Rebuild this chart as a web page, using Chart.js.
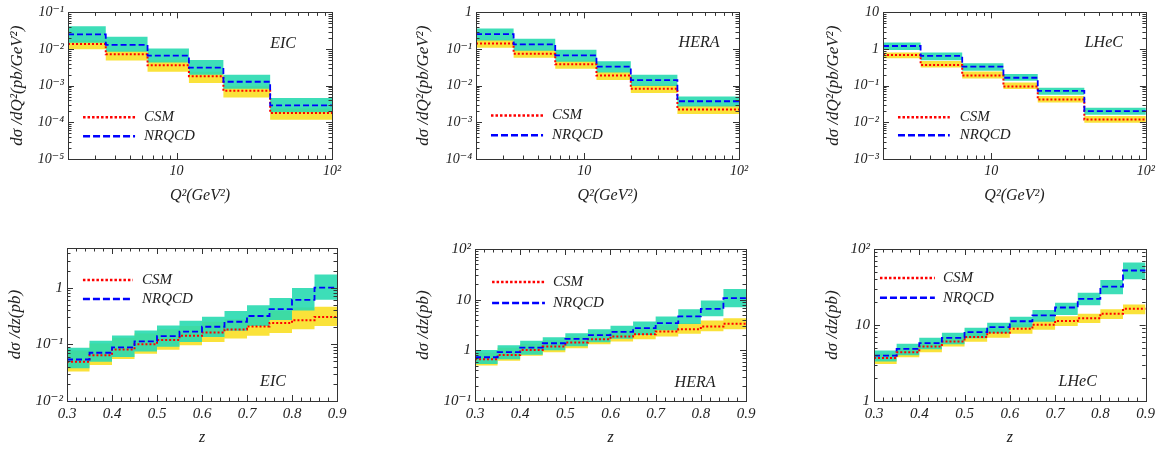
<!DOCTYPE html>
<html>
<head>
<meta charset="utf-8">
<script src="https://cdn.jsdelivr.net/npm/chart.js@4.4.1/dist/chart.umd.min.js"></script>
<style>
  html, body { margin: 0; padding: 0; background: #fff; }
  #wrap { position: relative; width: 1159px; height: 449px; overflow: hidden; }
  canvas { position: absolute; }
</style>
</head>
<body>
<div id="wrap">
  <canvas id="c1" width="380" height="220" style="left:0;top:0"></canvas>
  <canvas id="c2" width="390" height="220" style="left:380px;top:0"></canvas>
  <canvas id="c3" width="389" height="220" style="left:770px;top:0"></canvas>
  <canvas id="c4" width="380" height="229" style="left:0;top:220px"></canvas>
  <canvas id="c5" width="390" height="229" style="left:380px;top:220px"></canvas>
  <canvas id="c6" width="389" height="229" style="left:770px;top:220px"></canvas>
</div>
<script>
// bin edges
const q2Edges = [2, 3.5, 6.5, 12, 20, 40, 100];
const zEdges = [0.3, 0.35, 0.4, 0.45, 0.5, 0.55, 0.6, 0.65, 0.7, 0.75, 0.8, 0.85, 0.9];

// x ticks
const q2Ticks = [10, 100];
const q2TickLabels = ['10', '10²'];
const zTicks = [0.3, 0.4, 0.5, 0.6, 0.7, 0.8, 0.9];
const zTickLabels = ['0.3', '0.4', '0.5', '0.6', '0.7', '0.8', '0.9'];

// y ticks
const eicQ2YTicks = [1e-5, 1e-4, 1e-3, 1e-2, 1e-1];
const eicQ2YLabels = ['10⁻⁵', '10⁻⁴', '10⁻³', '10⁻²', '10⁻¹'];
const heraQ2YTicks = [1e-4, 1e-3, 1e-2, 1e-1, 1];
const heraQ2YLabels = ['10⁻⁴', '10⁻³', '10⁻²', '10⁻¹', '1'];
const lhecQ2YTicks = [1e-3, 1e-2, 1e-1, 1, 10];
const lhecQ2YLabels = ['10⁻³', '10⁻²', '10⁻¹', '1', '10'];
const eicZYTicks = [0.01, 0.1, 1];
const eicZYLabels = ['10⁻²', '10⁻¹', '1'];
const heraZYTicks = [0.1, 1, 10, 100];
const heraZYLabels = ['10⁻¹', '1', '10', '10²'];
const lhecZYTicks = [1, 10, 100];
const lhecZYLabels = ['1', '10', '10²'];

// EIC, dsigma/dQ2
const eicQ2Nrqcd   = [0.025, 0.013, 0.0066, 0.0031, 0.00128, 0.00029];
const eicQ2NrqcdHi = [0.042, 0.0216, 0.0104, 0.0050, 0.0020, 0.00046];
const eicQ2NrqcdLo = [0.0148, 0.0085, 0.0043, 0.0020, 0.00082, 0.00019];
const eicQ2Csm     = [0.0137, 0.0072, 0.0036, 0.0018, 0.00073, 0.000179];
const eicQ2CsmHi   = [0.017, 0.0092, 0.0049, 0.0024, 0.00096, 0.00024];
const eicQ2CsmLo   = [0.0098, 0.0049, 0.0024, 0.00118, 0.00048, 0.000118];

// HERA, dsigma/dQ2
const heraQ2Nrqcd   = [0.254, 0.134, 0.0675, 0.0333, 0.0142, 0.00377];
const heraQ2NrqcdHi = [0.362, 0.19, 0.096, 0.0464, 0.0198, 0.00505];
const heraQ2NrqcdLo = [0.17, 0.09, 0.045, 0.023, 0.0098, 0.0027];
const heraQ2Csm     = [0.142, 0.0748, 0.0385, 0.019, 0.0083, 0.00225];
const heraQ2CsmHi   = [0.18, 0.095, 0.049, 0.024, 0.0106, 0.0029];
const heraQ2CsmLo   = [0.109, 0.058, 0.0288, 0.0142, 0.0063, 0.00168];

// LHeC, dsigma/dQ2
const lhecQ2Nrqcd   = [1.21, 0.65, 0.33, 0.165, 0.0718, 0.0202];
const lhecQ2NrqcdHi = [1.51, 0.80, 0.41, 0.21, 0.088, 0.0249];
const lhecQ2NrqcdLo = [0.94, 0.494, 0.254, 0.136, 0.057, 0.016];
const lhecQ2Csm     = [0.69, 0.37, 0.19, 0.095, 0.0419, 0.012];
const lhecQ2CsmHi   = [0.80, 0.474, 0.244, 0.123, 0.052, 0.0148];
const lhecQ2CsmLo   = [0.56, 0.313, 0.158, 0.081, 0.0347, 0.0098];

// EIC, dsigma/dz
const eicZNrqcd   = [0.054, 0.071, 0.088, 0.113, 0.139, 0.168, 0.204, 0.25, 0.316, 0.416, 0.61, 1.0];
const eicZNrqcdHi = [0.087, 0.115, 0.143, 0.175, 0.215, 0.261, 0.307, 0.388, 0.49, 0.655, 0.987, 1.71];
const eicZNrqcdLo = [0.038, 0.049, 0.060, 0.075, 0.091, 0.11, 0.135, 0.173, 0.21, 0.268, 0.394, 0.61];
const eicZCsm     = [0.049, 0.064, 0.081, 0.1, 0.119, 0.141, 0.162, 0.183, 0.207, 0.237, 0.265, 0.303];
const eicZCsmHi   = [0.078, 0.103, 0.13, 0.155, 0.185, 0.21, 0.25, 0.276, 0.33, 0.39, 0.445, 0.46];
const eicZCsmLo   = [0.033, 0.043, 0.055, 0.068, 0.080, 0.096, 0.110, 0.126, 0.141, 0.159, 0.185, 0.21];

// HERA, dsigma/dz
const heraZNrqcd   = [0.73, 0.918, 1.13, 1.38, 1.69, 1.99, 2.32, 2.74, 3.44, 4.66, 6.6, 10.7];
const heraZNrqcdHi = [1.02, 1.26, 1.54, 1.82, 2.18, 2.62, 3.05, 3.72, 4.66, 6.5, 9.66, 16.2];
const heraZNrqcdLo = [0.54, 0.67, 0.82, 1.0, 1.2, 1.45, 1.7, 2.0, 2.5, 3.3, 4.7, 7.1];
const heraZCsm     = [0.668, 0.813, 1.02, 1.19, 1.43, 1.66, 1.87, 2.08, 2.35, 2.62, 2.96, 3.34];
const heraZCsmHi   = [0.9, 1.13, 1.35, 1.58, 1.85, 2.15, 2.45, 2.75, 3.1, 3.45, 3.9, 4.3];
const heraZCsmLo   = [0.50, 0.62, 0.78, 0.92, 1.10, 1.32, 1.49, 1.66, 1.87, 2.12, 2.39, 2.62];

// LHeC, dsigma/dz
const lhecZNrqcd   = [3.96, 4.85, 5.77, 6.79, 8.07, 9.4, 11.2, 13.4, 17.0, 22.1, 31.9, 52.1];
const lhecZNrqcdHi = [4.61, 5.65, 6.79, 7.91, 9.22, 10.7, 12.8, 15.7, 19.6, 26.6, 39.2, 66.6];
const lhecZNrqcdLo = [3.3, 4.0, 4.8, 5.6, 6.7, 7.8, 9.3, 11.0, 13.5, 18.2, 25.3, 40.0];
const lhecZCsm     = [3.68, 4.38, 5.21, 6.07, 6.93, 7.91, 8.94, 10.1, 11.3, 12.3, 14.1, 16.3];
const lhecZCsmHi   = [4.2, 5.0, 5.9, 6.9, 7.9, 9.0, 10.2, 11.6, 13.0, 14.1, 16.1, 18.6];
const lhecZCsmLo   = [3.07, 3.76, 4.38, 5.21, 6.01, 6.79, 7.67, 8.67, 9.7, 10.6, 12.0, 13.9];

const SERIF = '"Liberation Serif", "DejaVu Serif", serif';
const GREEN = 'rgba(40, 218, 176, 0.9)';
const YELLOW = 'rgb(250, 226, 58)';

// histogram steps: hold each bin value up to the next edge
function steps(edges, vals) {
    return edges.map((e, i) => ({x: e, y: vals[Math.min(i, vals.length - 1)]}));
}

function minorValues(scale, isLog) {
    const out = [];
    if (isLog) {
        const k0 = Math.floor(Math.log10(scale.min)), k1 = Math.ceil(Math.log10(scale.max));
        for (let k = k0; k <= k1; k++) {
            for (let m = 1; m <= 9; m++) {
                const v = m * Math.pow(10, k);
                if (v >= scale.min * 0.999 && v <= scale.max * 1.001) out.push({v: v, major: m === 1});
            }
        }
    } else {
        for (let v = scale.min; v <= scale.max + 1e-9; v += 0.02) {
            const r = Math.round(v * 100) / 100;
            out.push({v: r, major: Math.abs(r * 10 - Math.round(r * 10)) < 1e-6});
        }
    }
    return out;
}

// frame, inward ticks, legend and label
const decorPlugin = {
    id: 'decor',
    afterDraw(chart, args, opts) {
        const {ctx, chartArea: a, scales} = chart;
        ctx.save();
        ctx.strokeStyle = '#333';
        ctx.lineWidth = 1;
        ctx.beginPath();
        minorValues(scales.x, opts.xLog).forEach(t => {
            const px = Math.round(scales.x.getPixelForValue(t.v)) + 0.5;
            const len = t.major ? 6 : 3.5;
            ctx.moveTo(px, a.bottom); ctx.lineTo(px, a.bottom - len);
            ctx.moveTo(px, a.top); ctx.lineTo(px, a.top + len);
        });
        minorValues(scales.y, true).forEach(t => {
            const py = Math.round(scales.y.getPixelForValue(t.v)) + 0.5;
            const len = t.major ? 6 : 3.5;
            ctx.moveTo(a.left, py); ctx.lineTo(a.left + len, py);
            ctx.moveTo(a.right, py); ctx.lineTo(a.right - len, py);
        });
        ctx.stroke();
        ctx.strokeRect(Math.round(a.left) + 0.5, Math.round(a.top) + 0.5,
            Math.round(a.right - a.left), Math.round(a.bottom - a.top));

        const w = a.right - a.left, h = a.bottom - a.top;
        const lx0 = a.left + opts.legend[0] * w, lx1 = a.left + opts.legend[1] * w, tx = a.left + opts.legend[2] * w;
        const rows = [
            {text: 'CSM', color: '#ff0000', dash: [2.5, 2], y: a.top + opts.legend[3] * h},
            {text: 'NRQCD', color: '#0000ff', dash: [7, 3], y: a.top + opts.legend[4] * h}
        ];
        ctx.font = 'italic 15px ' + SERIF;
        ctx.textBaseline = 'middle';
        ctx.textAlign = 'left';
        rows.forEach(r => {
            ctx.beginPath();
            ctx.setLineDash(r.dash);
            ctx.strokeStyle = r.color;
            ctx.lineWidth = 2.5;
            ctx.moveTo(lx0, r.y); ctx.lineTo(lx1, r.y);
            ctx.stroke();
            ctx.setLineDash([]);
            ctx.fillStyle = '#222';
            ctx.fillText(r.text, tx, r.y);
        });
        ctx.textAlign = 'center';
        ctx.font = 'italic 16px ' + SERIF;
        ctx.fillText(opts.label, a.left + opts.labelPos[0] * w, a.top + opts.labelPos[1] * h);
        ctx.restore();
    }
};

function makePanel(id, p) {
    const isZ = p.kind === 'z';
    const edges = isZ ? zEdges : q2Edges;
    const xTicks = isZ ? zTicks : q2Ticks;
    const xLabels = isZ ? zTickLabels : q2TickLabels;
    const tickFont = {family: SERIF, style: 'italic', size: isZ ? 15 : 14};
    const xTitleFont = {family: SERIF, style: 'italic', size: 16};
    const yTitleFont = {family: SERIF, style: 'italic', size: 17};

    const band = (vals, fill, color, order) => ({
        data: steps(edges, vals), stepped: true, borderWidth: 0, pointRadius: 0,
        fill: fill, backgroundColor: color, order: order
    });

    new Chart(document.getElementById(id), {
        type: 'line',
        data: {
            datasets: [
                band(p.csmLo, false, YELLOW, 40),
                band(p.csmHi, '-1', YELLOW, 40),
                band(p.nrqcdLo, false, GREEN, 30),
                band(p.nrqcdHi, '-1', GREEN, 30),
                {
                    label: 'CSM', data: steps(edges, p.csm), stepped: true, pointRadius: 0,
                    borderColor: '#ff0000', borderWidth: 2, borderDash: [2, 2], fill: false, order: 20
                },
                {
                    label: 'NRQCD', data: steps(edges, p.nrqcd), stepped: true, pointRadius: 0,
                    borderColor: '#0000ff', borderWidth: 1.8, borderDash: [6, 3], fill: false, order: 10
                }
            ]
        },
        options: {
            responsive: false,
            devicePixelRatio: 1,
            animation: false,
            layout: {padding: {top: p.padTop, right: p.padRight, left: 0, bottom: 0}},
            scales: {
                x: {
                    type: isZ ? 'linear' : 'logarithmic',
                    min: edges[0], max: edges[edges.length - 1],
                    grid: {display: false, drawTicks: false},
                    border: {display: false},
                    afterBuildTicks: s => { s.ticks = xTicks.map(v => ({value: v})); },
                    afterFit: s => { s.height = p.xHeight; },
                    ticks: {
                        autoSkip: false, maxRotation: 0, padding: 4, color: '#222', font: tickFont,
                        callback: v => xLabels[xTicks.indexOf(v)]
                    },
                    title: {
                        display: true, text: isZ ? 'z' : 'Q²(GeV²)', color: '#222', font: xTitleFont,
                        padding: {top: 0, bottom: p.xTitlePad}
                    }
                },
                y: {
                    type: 'logarithmic',
                    min: p.yTicks[0], max: p.yMax,
                    grid: {display: false, drawTicks: false},
                    border: {display: false},
                    afterBuildTicks: s => { s.ticks = p.yTicks.map(v => ({value: v})); },
                    afterFit: s => { s.width = p.yWidth; },
                    ticks: {
                        autoSkip: false, padding: 4, color: '#222', font: tickFont,
                        callback: v => p.yLabels[p.yTicks.indexOf(v)]
                    },
                    title: {
                        display: true, text: isZ ? 'dσ /dz(pb)' : 'dσ /dQ²(pb/GeV²)', color: '#222', font: yTitleFont,
                        padding: {top: p.yTitlePad, bottom: 0}
                    }
                }
            },
            plugins: {
                legend: {display: false},
                tooltip: {enabled: false},
                decor: {xLog: !isZ, label: p.label, labelPos: p.labelPos, legend: p.legend}
            }
        },
        plugins: [decorPlugin]
    });
}

makePanel('c1', {
    kind: 'q2', label: 'EIC', yTicks: eicQ2YTicks, yLabels: eicQ2YLabels, yMax: 0.1,
    nrqcd: eicQ2Nrqcd, nrqcdHi: eicQ2NrqcdHi, nrqcdLo: eicQ2NrqcdLo, csm: eicQ2Csm, csmHi: eicQ2CsmHi, csmLo: eicQ2CsmLo,
    yWidth: 68, padRight: 48, padTop: 11, xHeight: 61, xTitlePad: 15, yTitlePad: 7,
    labelPos: [0.815, 0.216], legend: [0.057, 0.254, 0.288, 0.716, 0.845]
});
makePanel('c2', {
    kind: 'q2', label: 'HERA', yTicks: heraQ2YTicks, yLabels: heraQ2YLabels, yMax: 1,
    nrqcd: heraQ2Nrqcd, nrqcdHi: heraQ2NrqcdHi, nrqcdLo: heraQ2NrqcdLo, csm: heraQ2Csm, csmHi: heraQ2CsmHi, csmLo: heraQ2CsmLo,
    yWidth: 96, padRight: 31, padTop: 11, xHeight: 61, xTitlePad: 15, yTitlePad: 33,
    labelPos: [0.848, 0.21], legend: [0.057, 0.255, 0.289, 0.703, 0.838]
});
makePanel('c3', {
    kind: 'q2', label: 'LHeC', yTicks: lhecQ2YTicks, yLabels: lhecQ2YLabels, yMax: 10,
    nrqcd: lhecQ2Nrqcd, nrqcdHi: lhecQ2NrqcdHi, nrqcdLo: lhecQ2NrqcdLo, csm: lhecQ2Csm, csmHi: lhecQ2CsmHi, csmLo: lhecQ2CsmLo,
    yWidth: 113, padRight: 12, padTop: 11, xHeight: 61, xTitlePad: 15, yTitlePad: 53,
    labelPos: [0.84, 0.21], legend: [0.057, 0.254, 0.292, 0.716, 0.838]
});
makePanel('c4', {
    kind: 'z', label: 'EIC', yTicks: eicZYTicks, yLabels: eicZYLabels, yMax: 5,
    nrqcd: eicZNrqcd, nrqcdHi: eicZNrqcdHi, nrqcdLo: eicZNrqcdLo, csm: eicZCsm, csmHi: eicZCsmHi, csmLo: eicZCsmLo,
    yWidth: 67, padRight: 43, padTop: 28, xHeight: 48, xTitlePad: 2, yTitlePad: 5,
    labelPos: [0.763, 0.876], legend: [0.059, 0.244, 0.278, 0.209, 0.333]
});
makePanel('c5', {
    kind: 'z', label: 'HERA', yTicks: heraZYTicks, yLabels: heraZYLabels, yMax: 100,
    nrqcd: heraZNrqcd, nrqcdHi: heraZNrqcdHi, nrqcdLo: heraZNrqcdLo, csm: heraZCsm, csmHi: heraZCsmHi, csmLo: heraZCsmLo,
    yWidth: 95, padRight: 24, padTop: 29, xHeight: 48, xTitlePad: 2, yTitlePad: 33,
    labelPos: [0.812, 0.88], legend: [0.063, 0.258, 0.288, 0.217, 0.355]
});
makePanel('c6', {
    kind: 'z', label: 'LHeC', yTicks: lhecZYTicks, yLabels: lhecZYLabels, yMax: 100,
    nrqcd: lhecZNrqcd, nrqcdHi: lhecZNrqcdHi, nrqcdLo: lhecZNrqcdLo, csm: lhecZCsm, csmHi: lhecZCsmHi, csmLo: lhecZCsmLo,
    yWidth: 104, padRight: 13, padTop: 29, xHeight: 48, xTitlePad: 2, yTitlePad: 52,
    labelPos: [0.75, 0.875], legend: [0.022, 0.224, 0.254, 0.191, 0.32]
});
</script>
</body>
</html>
